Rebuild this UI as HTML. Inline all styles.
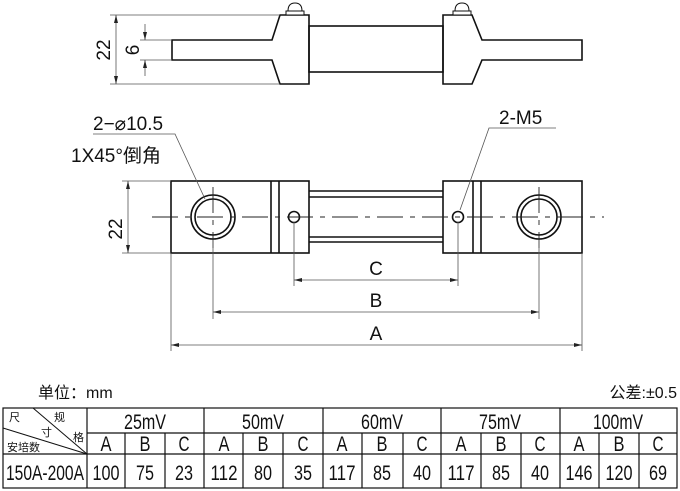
<!DOCTYPE html>
<html><head><meta charset="utf-8"><style>
body{margin:0;background:#fff}
svg{display:block}
text{font-family:"Liberation Sans","Noto Sans CJK SC",sans-serif;fill:#111}
.n{font-family:"Liberation Sans Narrow","Liberation Sans","Noto Sans CJK SC",sans-serif}
</style></head><body>
<svg width="680" height="491" viewBox="0 0 680 491" xmlns="http://www.w3.org/2000/svg">
<defs>
<marker id="ar" markerWidth="8" markerHeight="6" refX="8" refY="3" orient="auto-start-reverse" markerUnits="userSpaceOnUse"><path d="M0,1 L8,3 L0,5 Z" fill="#222"/></marker>
</defs>
<g fill="none" stroke="#111" stroke-width="1.6">
<path d="M172,40 H272 L280,15 H309 V84 H280 L272,60 H172 Z"/>
<rect x="309" y="26" width="134" height="46"/>
<path d="M582,40 H482 L472,15 H443 V84 H472 L482,60 H582 Z"/>
</g>
<g fill="#fff" stroke="#111" stroke-width="1">
<rect x="286" y="11" width="18" height="4"/><path d="M288,11 Q288,3 295,3 Q302,3 302,11 Z"/>
<rect x="453" y="11" width="18" height="4"/><path d="M455,11 Q455,3 462,3 Q469,3 469,11 Z"/>
</g>
<g stroke="#555" stroke-width="0.8" fill="none">
<line x1="110" y1="15" x2="280" y2="15"/><line x1="110" y1="84" x2="280" y2="84"/>
<line x1="116" y1="15" x2="116" y2="84" marker-start="url(#ar)" marker-end="url(#ar)"/>
<line x1="140" y1="40" x2="172" y2="40"/><line x1="140" y1="60" x2="172" y2="60"/>
<line x1="145" y1="24" x2="145" y2="40" marker-end="url(#ar)"/>
<line x1="145" y1="76" x2="145" y2="60" marker-end="url(#ar)"/>
</g>
<text x="0" y="0" font-size="19" transform="translate(110,50) rotate(-90)" text-anchor="middle">22</text>
<text x="0" y="0" font-size="19" transform="translate(139,50) rotate(-90)" text-anchor="middle">6</text>

<g fill="none" stroke="#111" stroke-width="1.6">
<rect x="171" y="181" width="138" height="72"/>
<line x1="271" y1="181" x2="271" y2="253"/><line x1="279" y1="181" x2="279" y2="253"/>
<rect x="443" y="181" width="139" height="72"/>
<line x1="473" y1="181" x2="473" y2="253"/><line x1="481" y1="181" x2="481" y2="253"/>
<line x1="309" y1="191" x2="443" y2="191"/><line x1="309" y1="197" x2="443" y2="197"/>
<line x1="309" y1="237" x2="443" y2="237"/><line x1="309" y1="242" x2="443" y2="242"/>
<circle cx="213" cy="217" r="22"/><circle cx="213" cy="217" r="18"/>
<circle cx="539" cy="217" r="22"/><circle cx="539" cy="217" r="18"/>
<circle cx="294" cy="217" r="5.5"/><circle cx="458" cy="217" r="5.5"/>
</g>
<g stroke="#222" stroke-width="0.9" fill="none" stroke-dasharray="26,7,5,7">
<line x1="152" y1="217" x2="604" y2="217"/>
<line x1="213" y1="187" x2="213" y2="248"/><line x1="539" y1="187" x2="539" y2="248"/>
</g>
<g stroke="#555" stroke-width="0.8" fill="none">
<line x1="122" y1="181" x2="171" y2="181"/><line x1="122" y1="253" x2="171" y2="253"/>
<line x1="128" y1="181" x2="128" y2="253" marker-start="url(#ar)" marker-end="url(#ar)"/>
<line x1="171" y1="253" x2="171" y2="351"/><line x1="582" y1="253" x2="582" y2="351"/>
<line x1="213" y1="240" x2="213" y2="319"/><line x1="539" y1="240" x2="539" y2="319"/>
<line x1="294" y1="222" x2="294" y2="286"/><line x1="458" y1="222" x2="458" y2="286"/>
<line x1="294" y1="280" x2="458" y2="280" marker-start="url(#ar)" marker-end="url(#ar)"/>
<line x1="213" y1="312" x2="539" y2="312" marker-start="url(#ar)" marker-end="url(#ar)"/>
<line x1="171" y1="345" x2="582" y2="345" marker-start="url(#ar)" marker-end="url(#ar)"/>
<polyline points="93,134 175,134 205,199"/>
<polyline points="556,128 489,128 460,210"/>
</g>
<text x="110" y="217" font-size="19" transform="rotate(-90 122 217)" text-anchor="middle">22</text>
<text x="93" y="130" font-size="19">2−⌀10.5</text>
<text x="71" y="162" font-size="19">1X45°倒角</text>
<text x="499" y="124" font-size="19">2-M5</text>
<text x="376" y="275" font-size="19" text-anchor="middle">C</text>
<text x="376" y="307" font-size="19" text-anchor="middle">B</text>
<text x="376" y="340" font-size="19" text-anchor="middle">A</text>

<text x="38" y="398" font-size="16">单位：mm</text>
<text x="677" y="398" font-size="16" text-anchor="end">公差:±0.5</text>
<g stroke="#111" stroke-width="1.2" fill="none">
<rect x="3" y="408" width="674" height="80"/>
<line x1="3" y1="454" x2="677" y2="454"/>
<line x1="87" y1="433" x2="677" y2="433"/>
<line x1="87" y1="408" x2="87" y2="488"/>
<line x1="204" y1="408" x2="204" y2="488"/><line x1="323" y1="408" x2="323" y2="488"/>
<line x1="441" y1="408" x2="441" y2="488"/><line x1="560" y1="408" x2="560" y2="488"/>
<line x1="125" y1="433" x2="125" y2="488"/><line x1="165" y1="433" x2="165" y2="488"/>
<line x1="243" y1="433" x2="243" y2="488"/><line x1="283" y1="433" x2="283" y2="488"/>
<line x1="362" y1="433" x2="362" y2="488"/><line x1="403" y1="433" x2="403" y2="488"/>
<line x1="481" y1="433" x2="481" y2="488"/><line x1="521" y1="433" x2="521" y2="488"/>
<line x1="599" y1="433" x2="599" y2="488"/><line x1="639" y1="433" x2="639" y2="488"/>
<line x1="33" y1="408" x2="87" y2="454" stroke-width="1"/>
<line x1="3" y1="428" x2="87" y2="454" stroke-width="1"/>
</g>
<g font-size="11">
<text x="9" y="421">尺</text><text x="54" y="421">规</text>
<text x="41" y="436">寸</text><text x="73" y="441">格</text>
<text x="7" y="451">安培数</text>
</g>
<g font-size="21" text-anchor="middle" class="n">
<text x="145" y="429" textLength="42" lengthAdjust="spacingAndGlyphs">25mV</text>
<text x="263" y="429" textLength="42" lengthAdjust="spacingAndGlyphs">50mV</text>
<text x="382" y="429" textLength="42" lengthAdjust="spacingAndGlyphs">60mV</text>
<text x="500" y="429" textLength="42" lengthAdjust="spacingAndGlyphs">75mV</text>
<text x="618" y="429" textLength="50" lengthAdjust="spacingAndGlyphs">100mV</text>
<text x="106" y="451" textLength="11" lengthAdjust="spacingAndGlyphs">A</text><text x="145" y="451" textLength="11" lengthAdjust="spacingAndGlyphs">B</text><text x="184" y="451" textLength="11" lengthAdjust="spacingAndGlyphs">C</text>
<text x="224" y="451" textLength="11" lengthAdjust="spacingAndGlyphs">A</text><text x="263" y="451" textLength="11" lengthAdjust="spacingAndGlyphs">B</text><text x="303" y="451" textLength="11" lengthAdjust="spacingAndGlyphs">C</text>
<text x="342" y="451" textLength="11" lengthAdjust="spacingAndGlyphs">A</text><text x="382" y="451" textLength="11" lengthAdjust="spacingAndGlyphs">B</text><text x="422" y="451" textLength="11" lengthAdjust="spacingAndGlyphs">C</text>
<text x="461" y="451" textLength="11" lengthAdjust="spacingAndGlyphs">A</text><text x="501" y="451" textLength="11" lengthAdjust="spacingAndGlyphs">B</text><text x="540" y="451" textLength="11" lengthAdjust="spacingAndGlyphs">C</text>
<text x="579" y="451" textLength="11" lengthAdjust="spacingAndGlyphs">A</text><text x="619" y="451" textLength="11" lengthAdjust="spacingAndGlyphs">B</text><text x="658" y="451" textLength="11" lengthAdjust="spacingAndGlyphs">C</text>
<text x="45" y="480" textLength="78" lengthAdjust="spacingAndGlyphs">150A-200A</text>
<text x="106" y="480" textLength="27" lengthAdjust="spacingAndGlyphs">100</text><text x="145" y="480" textLength="18" lengthAdjust="spacingAndGlyphs">75</text><text x="184" y="480" textLength="18" lengthAdjust="spacingAndGlyphs">23</text>
<text x="224" y="480" textLength="27" lengthAdjust="spacingAndGlyphs">112</text><text x="263" y="480" textLength="18" lengthAdjust="spacingAndGlyphs">80</text><text x="303" y="480" textLength="18" lengthAdjust="spacingAndGlyphs">35</text>
<text x="342" y="480" textLength="27" lengthAdjust="spacingAndGlyphs">117</text><text x="382" y="480" textLength="18" lengthAdjust="spacingAndGlyphs">85</text><text x="422" y="480" textLength="18" lengthAdjust="spacingAndGlyphs">40</text>
<text x="461" y="480" textLength="27" lengthAdjust="spacingAndGlyphs">117</text><text x="501" y="480" textLength="18" lengthAdjust="spacingAndGlyphs">85</text><text x="540" y="480" textLength="18" lengthAdjust="spacingAndGlyphs">40</text>
<text x="579" y="480" textLength="27" lengthAdjust="spacingAndGlyphs">146</text><text x="619" y="480" textLength="27" lengthAdjust="spacingAndGlyphs">120</text><text x="658" y="480" textLength="18" lengthAdjust="spacingAndGlyphs">69</text>
</g>
</svg>
</body></html>
